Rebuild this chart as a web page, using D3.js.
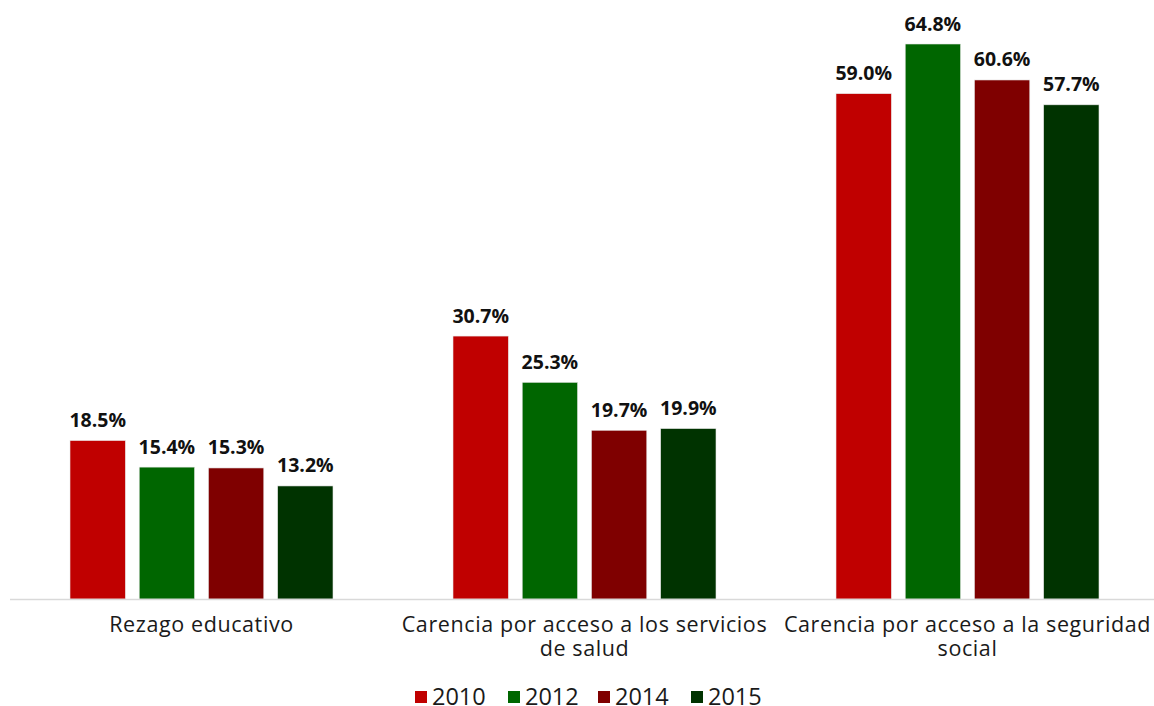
<!DOCTYPE html>
<html><head><meta charset="utf-8">
<script src="https://cdn.jsdelivr.net/npm/d3@7"></script>
<style>body{margin:0;background:#fff}svg{display:block}</style>
</head><body>
<svg id="c" width="1154" height="706"></svg>
<script>
const categories = [["Rezago educativo"], ["Carencia por acceso a los servicios", "de salud"], ["Carencia por acceso a la seguridad", "social"]];
const years = ["2010", "2012", "2014", "2015"];
const colors = ["#C00000", "#006600", "#7F0000", "#003300"];
const v2010 = [18.5, 30.7, 59.0];
const v2012 = [15.4, 25.3, 64.8];
const v2014 = [15.3, 19.7, 60.6];
const v2015 = [13.2, 19.9, 57.7];
const series = [v2010, v2012, v2014, v2015];

const svg = d3.select("#c");
const font = "'Open Sans', sans-serif";
const x0 = d3.scaleBand().domain(d3.range(categories.length)).range([10, 1159]).paddingInner(0).paddingOuter(0);
const x1 = d3.scaleBand().domain(d3.range(years.length)).range([60, x0.bandwidth() - 60]).paddingInner(0.2).paddingOuter(0);
const y = d3.scaleLinear().domain([0, 64.8]).range([599, 44]);

const g = svg.selectAll("g.cat").data(categories).join("g").attr("transform", (d, i) => `translate(${x0(i)},0)`);
series.forEach((s, si) => {
  g.append("rect")
    .attr("x", x1(si)).attr("width", x1.bandwidth())
    .attr("y", (d, i) => y(s[i])).attr("height", (d, i) => y(0) - y(s[i]))
    .attr("fill", colors[si]).attr("stroke", "#e8e8e8").attr("stroke-width", 0.6);
  g.append("text")
    .attr("x", x1(si) + x1.bandwidth() / 2).attr("y", (d, i) => y(s[i]) - 13.5)
    .attr("text-anchor", "middle").attr("font-family", font).attr("font-weight", 700)
    .attr("font-size", 19.5).attr("fill", "#111")
    .text((d, i) => s[i].toFixed(1) + "%");
});

svg.append("line").attr("x1", 10).attr("x2", 1154).attr("y1", 599.5).attr("y2", 599.5)
  .attr("stroke", "#d9d9d9").attr("stroke-width", 1.5);

g.each(function(lines) {
  const cx = x0.bandwidth() / 2;
  d3.select(this).selectAll("text.cat").data(lines).join("text").attr("class", "cat")
    .attr("x", cx).attr("y", (d, i) => 632 + i * 23.5).attr("text-anchor", "middle")
    .attr("font-family", font).attr("font-size", 21.5).attr("letter-spacing", 0.6).attr("fill", "#1a1a1a")
    .text(d => d);
});

const legX = [415, 508, 598, 691];
const lg = svg.selectAll("g.leg").data(years).join("g").attr("transform", (d, i) => `translate(${legX[i]},0)`);
lg.append("rect").attr("x", 0).attr("y", 691).attr("width", 12).attr("height", 12).attr("fill", (d, i) => colors[i]);
lg.append("text").attr("x", 17).attr("y", 704.5).attr("font-family", font).attr("font-size", 23.5).attr("fill", "#1a1a1a").text(d => d);
</script>
</body></html>
